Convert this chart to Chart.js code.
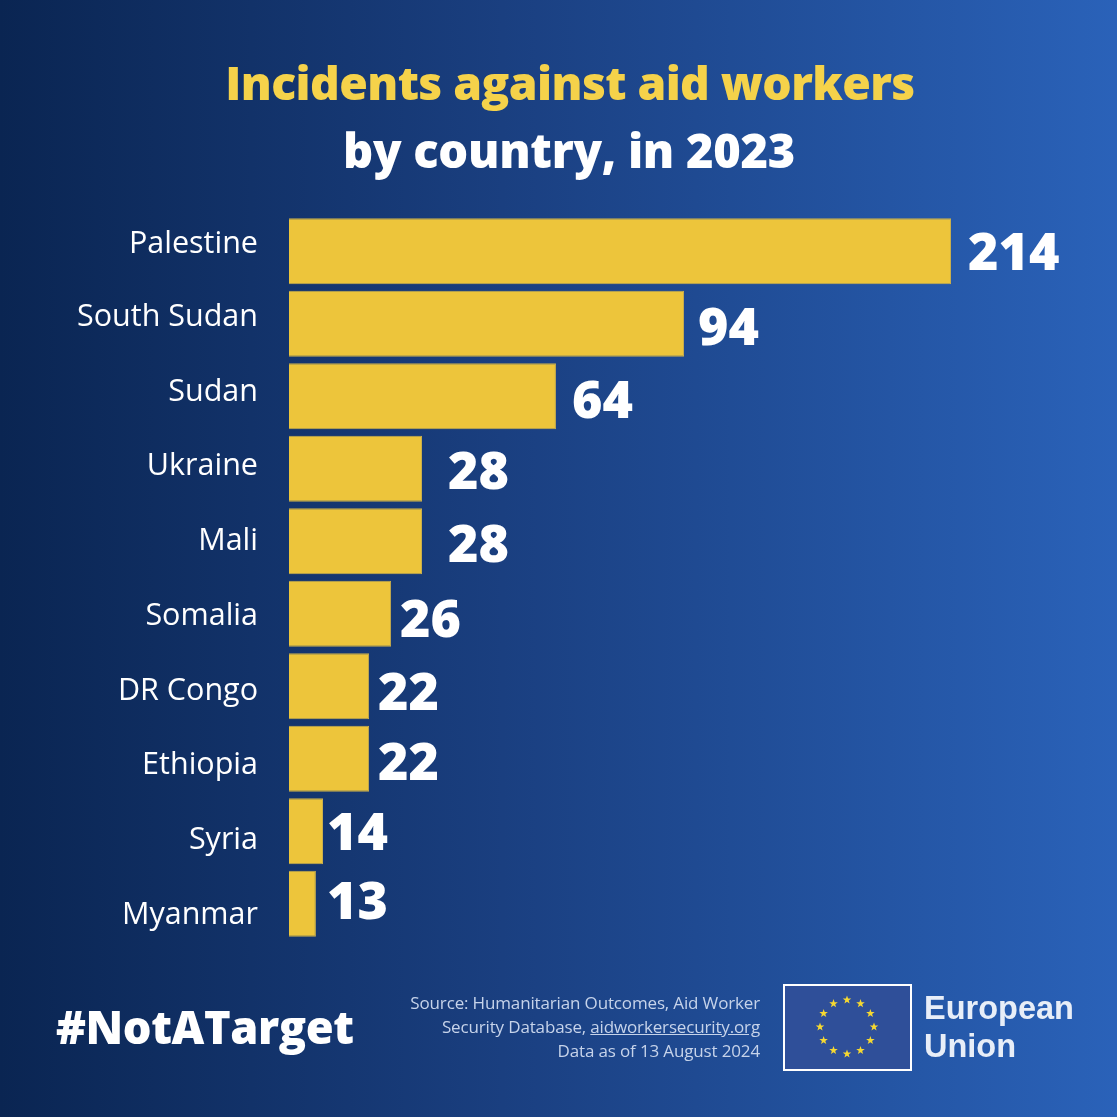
<!DOCTYPE html>
<html><head><meta charset="utf-8">
<style>
html,body{margin:0;padding:0;width:1117px;height:1117px;overflow:hidden;background:linear-gradient(90deg,#0a2552 0%,#1a3f80 45%,#2a62b9 100%);}
#wrap{position:absolute;left:0;top:0;width:1117px;height:1117px}
.t{position:absolute;font-family:"Open Sans","Noto Sans",sans-serif;white-space:nowrap}
</style></head><body>
<div id="wrap"><canvas id="c" width="1117" height="1117"></canvas></div>
<div class="t" style="left:0;width:1140px;text-align:center;top:51px;font-size:46.3px;font-weight:800;color:#f5d24a;letter-spacing:-.6px">Incidents against aid workers</div>
<div class="t" style="left:0;width:1138px;text-align:center;top:118px;font-size:47px;font-weight:800;color:#fff;letter-spacing:-.3px">by country, in 2023</div>
<div class="t" style="left:56px;top:996px;font-size:45.2px;font-weight:800;color:#fff;letter-spacing:-.4px">#NotATarget</div>
<div class="t" style="right:357px;top:991px;font-size:17px;line-height:24px;color:#c6d3ea;text-align:right;letter-spacing:-.15px">Source: Humanitarian Outcomes, Aid Worker<br>Security Database, <u>aidworkersecurity.org</u><br>Data as of 13 August 2024</div>
<div style="position:absolute;left:783px;top:984px;width:125px;height:83px;border:2px solid #fff;background:#2f4f99"></div>
<svg style="position:absolute;left:785px;top:986px" width="125" height="83" id="stars"></svg>
<div class="t" style="left:924px;top:989px;font-family:'Liberation Sans';font-size:32.5px;line-height:38px;font-weight:700;color:#e8eef8">European<br>Union</div>
<script src="https://cdn.jsdelivr.net/npm/chart.js@4"></script>
<script>
const categories=["Palestine","South Sudan","Sudan","Ukraine","Mali","Somalia","DR Congo","Ethiopia","Syria","Myanmar"];
const incidents=[214,94,64,28,28,26,22,22,14,13];
// The reference's bars are not to scale with their printed values; these are the lengths as drawn.
const drawnLengths=[214,127.7,86.3,43,43,33,25.9,25.9,11,8.7];
const labelShift=[-7,-6,-4,-2,0,2.5,5,7,9.5,11.5];
const valueGap=[17,14,16,26,26,9,9,9,4,11];
const valueShift=[4,6.5,7,5.5,6,8.5,9,6.5,4,0.5];

let s='';
const star=(x,y,r)=>{let p=[];for(let i=0;i<10;i++){const a=-Math.PI/2+i*Math.PI/5,q=i%2?r*.4:r;p.push((x+q*Math.cos(a)).toFixed(1)+','+(y+q*Math.sin(a)).toFixed(1));}return `<polygon points="${p.join(' ')}" fill="#f5d832"/>`};
for(let i=0;i<12;i++){const a=i*Math.PI/6;s+=star(62+27*Math.sin(a),41+27*Math.cos(a),4.5)}
document.getElementById('stars').innerHTML=s;

const valuePlugin={id:'vals',afterDatasetsDraw(ch){const m=ch.getDatasetMeta(0),c=ch.ctx;c.save();c.font='800 52px "Open Sans"';c.fillStyle='#fff';c.textBaseline='middle';
m.data.forEach((b,i)=>{c.fillText(incidents[i],b.x+valueGap[i],b.y+valueShift[i])});c.restore();}};

new Chart(document.getElementById('c'),{type:'bar',plugins:[valuePlugin],
data:{labels:categories,datasets:[{data:drawnLengths,backgroundColor:'#edc53b',borderColor:'#c9ae4c',borderWidth:1,barPercentage:.91,categoryPercentage:1}]},
options:{responsive:false,animation:false,indexAxis:'y',
layout:{padding:{top:215,bottom:177,left:0,right:166}},
plugins:{legend:{display:false},tooltip:{enabled:false}},
scales:{x:{display:false,min:0,max:214},
y:{position:'left',grid:{display:false},border:{display:false},
afterFit(sc){sc.width=289},
afterDataLimits(sc){const orig=sc.getPixelForTick;sc.getPixelForTick=i=>orig.call(sc,i)+labelShift[i]},
ticks:{color:'#fff',font:{family:'"Open Sans"',size:30.5},padding:23}}}}});
</script>
</body></html>
